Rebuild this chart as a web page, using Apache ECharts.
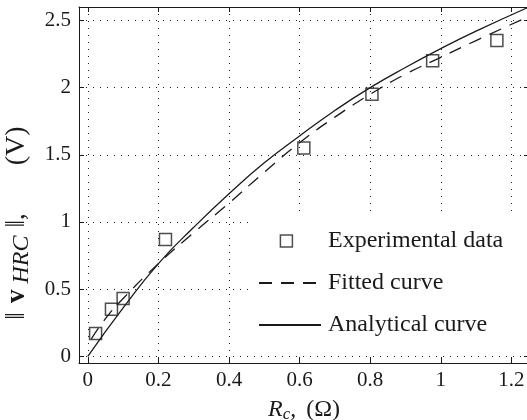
<!DOCTYPE html>
<html>
<head>
<meta charset="utf-8">
<script src="https://cdn.jsdelivr.net/npm/echarts@6/dist/echarts.min.js"></script>
<style>
  html, body { margin: 0; padding: 0; background: #fff; }
  #chart { width: 527px; height: 420px; }
</style>
</head>
<body>
<div id="chart"></div>
<script>
// Measured output amplitude versus compensation resistance
const expR = [0.022, 0.067, 0.100, 0.220, 0.612, 0.805, 0.977, 1.159];
const expV = [0.17, 0.35, 0.43, 0.87, 1.55, 1.95, 2.20, 2.35];

// Least-squares fitted curve
const fitR = [0.01, 0.05, 0.10, 0.20, 0.30, 0.40, 0.50, 0.60, 0.70, 0.80, 0.90, 1.00, 1.10, 1.25];
const fitV = [0.13, 0.28, 0.43, 0.69, 0.92, 1.14, 1.37, 1.59, 1.78, 1.95, 2.10, 2.225, 2.35, 2.53];

// Closed-form analytical curve
const anaR = [0, 0.10, 0.20, 0.30, 0.40, 0.50, 0.60, 0.70, 0.80, 0.90, 1.00, 1.10, 1.25];
const anaV = [0, 0.36, 0.69, 0.96, 1.21, 1.44, 1.64, 1.83, 2.00, 2.15, 2.29, 2.42, 2.60];

const xTicks = [0, 0.2, 0.4, 0.6, 0.8, 1, 1.2];
const yTicks = [0, 0.5, 1, 1.5, 2, 2.5];

const FONT = '"Liberation Serif", "DejaVu Serif", serif';
const INK = '#1a1a1a';

function pairs(xs, ys) { return xs.map((x, i) => [x, ys[i]]); }
function tickLabel(list) {
  return v => {
    const hit = list.find(t => Math.abs(t - v) < 1e-6);
    return hit === undefined ? '' : String(hit);
  };
}

const gridLine = { show: true, lineStyle: { color: '#222', width: 1, type: [1, 6] } };
const frameLine = { show: true, onZero: false, lineStyle: { color: INK, width: 1 } };
const innerTick = { show: true, inside: true, length: 5, lineStyle: { color: INK, width: 1 } };
const clear = 'rgba(0,0,0,0)';

const chart = echarts.init(document.getElementById('chart'), null, { renderer: 'canvas' });
chart.setOption({
  animation: false,
  backgroundColor: '#fff',
  grid: { left: 79, top: 7, right: -2, bottom: 57, containLabel: false, outerBoundsMode: 'none' },
  xAxis: [{
    type: 'value', min: -0.025, max: 1.25, splitNumber: 6,
    axisLine: frameLine, axisTick: innerTick, splitLine: gridLine,
    axisLabel: { formatter: tickLabel(xTicks), margin: 7, color: INK, fontFamily: FONT, fontSize: 21 },
    name: '{i|R}{s|c}{t|,}{p|(Ω)}', nameLocation: 'middle', nameGap: 33,
    nameTextStyle: {
      color: INK, fontFamily: FONT, fontSize: 24,
      rich: {
        i: { fontFamily: FONT, fontSize: 24, fontStyle: 'italic', color: INK },
        s: { fontFamily: FONT, fontSize: 17, fontStyle: 'italic', color: INK, padding: [10, 0, 0, 0] },
        t: { fontFamily: FONT, fontSize: 24, color: INK },
        p: { fontFamily: FONT, fontSize: 24, color: INK, padding: [0, 0, 0, 10] }
      }
    }
  }, {
    type: 'value', position: 'top', min: -0.025, max: 1.25, splitNumber: 6,
    axisLine: frameLine, axisTick: innerTick, splitLine: { show: false }, axisLabel: { show: false }
  }],
  yAxis: [{
    type: 'value', min: -0.05, max: 2.6, splitNumber: 5,
    axisLine: frameLine, axisTick: innerTick, splitLine: gridLine,
    axisLabel: { formatter: tickLabel(yTicks), margin: 8, color: INK, fontFamily: FONT, fontSize: 21 },
    name: '{t|‖}{b|v}{s|HRC}{m|‖}{t|,}{p|(V)}', nameLocation: 'middle', nameGap: 44,
    nameTextStyle: {
      color: INK, fontFamily: FONT, fontSize: 27, padding: [0, 76, 0, 0],
      rich: {
        t: { fontFamily: FONT, fontSize: 27, color: INK },
        b: { fontFamily: FONT, fontSize: 27, fontWeight: 'bold', color: INK, padding: [0, 0, 0, 9] },
        s: { fontFamily: FONT, fontSize: 24, fontStyle: 'italic', color: INK, padding: [10, 0, 0, 6] },
        m: { fontFamily: FONT, fontSize: 27, color: INK, padding: [0, 0, 0, 8] },
        p: { fontFamily: FONT, fontSize: 28, color: INK, padding: [0, 0, 0, 48] }
      }
    }
  }, {
    type: 'value', position: 'right', min: -0.05, max: 2.6, splitNumber: 5,
    axisLine: frameLine, axisTick: innerTick, splitLine: { show: false }, axisLabel: { show: false }
  }],
  legend: {
    orient: 'vertical', left: 252, top: 214,
    padding: [15, 30, 14, 6], itemGap: 18,
    itemWidth: 62, itemHeight: 12,
    backgroundColor: '#fff', borderWidth: 0,
    formatter: n => '{t|' + n + '}',
    textStyle: {
      fontFamily: FONT, fontSize: 24, color: INK,
      rich: { t: { fontFamily: FONT, fontSize: 24, color: INK, padding: [0, 0, 0, 2] } }
    },
    data: [
      { name: 'Experimental data', icon: 'path://M0,0H10V10H0Z M16,5',
        itemStyle: { color: clear, borderColor: '#222', borderWidth: 1.5 } },
      { name: 'Fitted curve' },
      { name: 'Analytical curve' }
    ]
  },
  series: [{
    name: 'Experimental data', type: 'scatter', symbol: 'rect', symbolSize: 12,
    itemStyle: { color: clear, borderColor: '#222', borderWidth: 1.5 },
    data: pairs(expR, expV), z: 3
  }, {
    name: 'Fitted curve', type: 'line', smooth: true, showSymbol: false, symbol: 'none',
    itemStyle: { color: clear, borderWidth: 0 },
    lineStyle: { color: INK, width: 1.3, type: [13, 9] },
    data: pairs(fitR, fitV), z: 2
  }, {
    name: 'Analytical curve', type: 'line', smooth: true, showSymbol: false, symbol: 'none',
    itemStyle: { color: clear, borderWidth: 0 },
    lineStyle: { color: INK, width: 1.3, type: 'solid' },
    data: pairs(anaR, anaV), z: 2
  }]
});
</script>
</body>
</html>
